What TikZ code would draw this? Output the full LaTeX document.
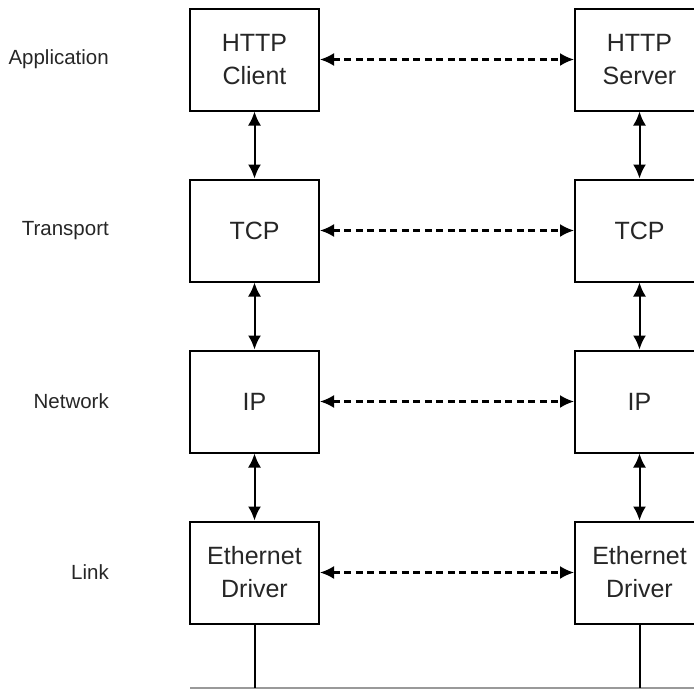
\documentclass[tikz,border=0pt]{standalone}
\usepackage{fontspec}
\setmainfont{Liberation Sans}
\usepackage{tikz}
\usetikzlibrary{arrows.meta, positioning}

\begin{document}
\begin{tikzpicture}[
    x=1pt, y=-1pt,
    node distance=67pt and 254pt,
    layer/.style={rectangle, draw, line width=2pt, minimum width=129pt, minimum height=102pt, inner sep=0pt, font=\fontsize{25}{33}\selectfont, align=center, text=black!85},
    layername/.style={font=\fontsize{20.5}{28}\selectfont, inner sep=0pt, text=black!85},
    arrow/.style={{Latex[length=14pt, width=13pt]}-{Latex[length=14pt, width=13pt]}, line width=2pt},
    peer/.style={{Latex[length=14pt, width=13pt]}-{Latex[length=14pt, width=13pt]}, line width=2.2pt, dash pattern=on 7pt off 4.5pt},
    wire/.style={line width=2pt},
    bus/.style={draw=black!40, line width=2pt}
]
    \useasboundingbox (0,0) rectangle (694,689);

    % Left host
    \node[layer] (httpc) at (254.5,59.5) {HTTP\\Client};
    \node[layer, below=of httpc] (tcpc) {TCP};
    \node[layer, below=of tcpc] (ipc) {IP};
    \node[layer, below=of ipc] (ethc) {Ethernet\\Driver};

    % Right host
    \node[layer, right=of httpc] (https) {HTTP\\Server};
    \node[layer, right=of tcpc] (tcps) {TCP};
    \node[layer, right=of ipc] (ips) {IP};
    \node[layer, right=of ethc] (eths) {Ethernet\\Driver};

    % Layer names
    \node[layername, left=80pt of httpc] (app) {Application};
    \node[layername, left=80pt of tcpc] (transp) {Transport};
    \node[layername, left=80pt of ipc] (netw) {Network};
    \node[layername, left=80pt of ethc] (link) {Link};

    % Arrows - between layers
    \draw[arrow] (httpc) -- (tcpc);
    \draw[arrow] (tcpc) -- (ipc);
    \draw[arrow] (ipc) -- (ethc);
    \draw[arrow] (https) -- (tcps);
    \draw[arrow] (tcps) -- (ips);
    \draw[arrow] (ips) -- (eths);

    % Arrows - peer protocols
    \draw[peer] (httpc) -- (https);
    \draw[peer] (tcpc) -- (tcps);
    \draw[peer] (ipc) -- (ips);
    \draw[peer] (ethc) -- (eths);

    % Cable
    \coordinate (busw) at (190,688);
    \coordinate (buse) at (694,688);
    \draw[bus] (busw) -- (buse);
    \draw[wire] (ethc.south) -- (ethc.south |- busw);
    \draw[wire] (eths.south) -- (eths.south |- busw);
\end{tikzpicture}
\end{document}
